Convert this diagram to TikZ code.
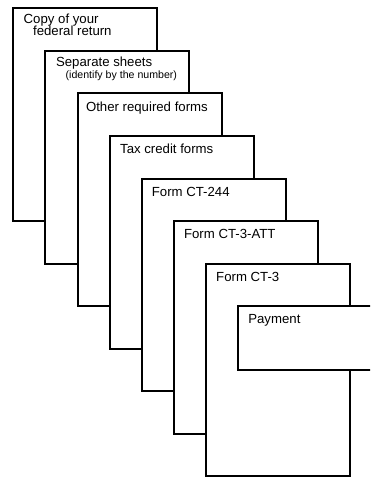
\documentclass[tikz,border=0pt]{standalone}
\usepackage{fontspec}
\setmainfont{Liberation Sans}
\usetikzlibrary{positioning}

\begin{document}
\begin{tikzpicture}[
  x=1pt, y=-1pt,
  sheet/.style={rectangle, draw=black, fill=white, line width=2pt, outer sep=0pt, inner sep=0pt, minimum width=144pt, minimum height=212.7pt},
  slip/.style={sheet, minimum width=150pt, minimum height=63.6pt},
  sheetlabel/.style={anchor=base west, inner sep=0pt, font=\fontsize{13.2}{15}\selectfont},
  notelabel/.style={anchor=base west, inner sep=0pt, font=\fontsize{10.6}{12}\selectfont}
]
  \clip (0,0) rectangle (370,477);

  % Stack of sheets, back to front
  \node[sheet, anchor=north west] (federal) at (13.3,8.3) {};
  \node[sheet, below right=42.55pt and 32.15pt of federal.north west] (separate) {};
  \node[sheet, below right=42.55pt and 32.15pt of separate.north west] (other) {};
  \node[sheet, below right=42.55pt and 32.15pt of other.north west] (credit) {};
  \node[sheet, below right=42.55pt and 32.15pt of credit.north west] (ct244) {};
  \node[sheet, below right=42.55pt and 32.15pt of ct244.north west] (ct3att) {};
  \node[sheet, below right=42.55pt and 32.15pt of ct3att.north west] (ct3) {};

  % Payment slip on top
  \node[slip, below right=42.55pt and 32.15pt of ct3.north west] (payment) {};

  % Labels
  \node[sheetlabel] (federaltxt) at ([shift={(10.2,15.6)}]federal.north west) {Copy of your};
  \node[sheetlabel] (federaltxt2) at ([shift={(19.6,27.4)}]federal.north west) {federal return};
  \node[sheetlabel] (separatetxt) at ([shift={(10.4,15.5)}]separate.north west) {Separate sheets};
  \node[notelabel] (separatenote) at ([shift={(20.0,27.4)}]separate.north west) {(identify by the number)};
  \node[sheetlabel] (othertxt) at ([shift={(8.2,17.7)}]other.north west) {Other required forms};
  \node[sheetlabel] (credittxt) at ([shift={(10.2,17.7)}]credit.north west) {Tax credit forms};
  \node[sheetlabel] (ct244txt) at ([shift={(9.8,17.7)}]ct244.north west) {Form CT-244};
  \node[sheetlabel] (ct3atttxt) at ([shift={(9.8,17.7)}]ct3att.north west) {Form CT-3-ATT};
  \node[sheetlabel] (ct3txt) at ([shift={(9.8,17.7)}]ct3.north west) {Form CT-3};
  \node[sheetlabel] (paymenttxt) at ([shift={(9.8,17.7)}]payment.north west) {Payment};
\end{tikzpicture}
\end{document}
